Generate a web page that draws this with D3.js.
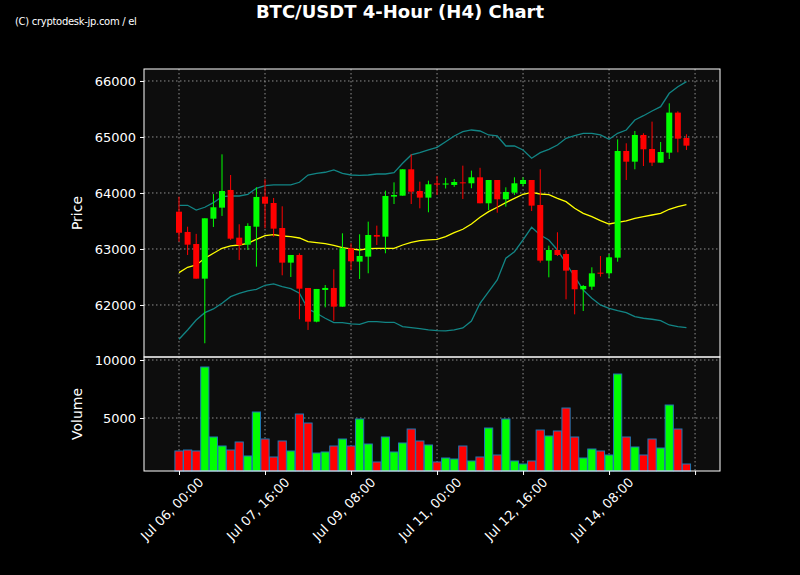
<!DOCTYPE html>
<html><head><meta charset="utf-8">
<script src="https://cdn.jsdelivr.net/npm/d3@7"></script>
<style>body{margin:0;background:#000;} text{font-family:"DejaVu Sans",sans-serif;}</style>
</head><body>
<script>
// 4h candles starting Jul 06 00:00
var opens  = [63666,63304,63089,62470,63541,63738,64054,63202,63077,63398,63934,63821,63375,62756,62893,62304,61702,62268,62304,61970,
              63012,62774,62863,63250,63220,63935,63952,64423,64036,63917,64170,64150,64143,64190,64173,64280,63816,64232,63887,64006,
              64161,64232,63786,62792,62982,62911,62625,62280,62327,62577,62566,62845,64750,64559,65036,64786,64542,64720,65435,64982];
var closes = [63290,63077,62470,63548,63745,64036,63184,63071,63411,63929,63809,63363,62756,62893,62291,61702,62286,62304,61970,63012,
              62780,62875,63250,63220,63946,63964,64423,64023,63917,64155,64150,64170,64196,64173,64280,63816,64232,63887,64018,64173,
              64232,63774,62792,62982,62893,62613,62280,62339,62565,62560,62851,64750,64559,65036,64780,64542,64732,65435,64970,64845];
var highs  = [63934,63398,63270,63548,63982,64690,64321,63441,63459,64102,64245,63911,63762,62893,62923,62304,62286,62357,62637,63280,
              63101,63262,63488,63417,64041,64190,64423,64690,64202,64220,64304,64270,64250,64488,64399,64450,64232,64232,64101,64280,
              64280,64232,64423,63060,63298,62982,62625,62357,62673,62875,62910,64958,64887,65107,65066,65274,64910,65601,65458,65048];
var lows   = [63130,62893,62470,61316,63393,63590,63161,62804,62982,62684,63370,63220,62530,62500,61745,61554,61690,61958,61720,61970,
              62625,62464,62566,63071,62923,63803,63952,63803,63726,63655,63964,64080,64110,63893,64084,63816,63696,63648,63756,63964,
              64120,63678,62756,62494,62875,62101,61833,61893,62268,62506,62480,62773,64232,64423,64482,64482,64542,64607,64726,64768];
var volumes = [2156,2242,2156,9397,3363,2587,2242,2932,1725,5518,3190,1639,3018,2156,5345,4569,1983,2070,2587,3190,
               2587,4914,2759,1208,3363,2070,2846,4052,3018,2673,1208,1552,1466,2587,1294,1639,4138,1811,4914,1294,
               1035,1294,3966,3449,3880,5862,3363,1552,2328,2156,1811,8793,3363,2500,1811,3190,2414,6121,4052,1035];
var bbMid = [62577,62673,62714,62834,62923,63012,63054,63071,63102,63173,63237,63255,63232,63220,63196,63130,63112,63095,63066,63023,
             63000,62982,63005,63012,63012,63012,63071,63120,63148,63161,63173,63220,63291,63352,63446,63566,63666,63745,63827,63905,
             63977,64012,63982,63970,63905,63845,63727,63637,63577,63505,63446,63477,63500,63548,63577,63607,63637,63709,63755,63791];
var bbUpper = [63780,63780,63696,63745,63827,63934,63946,63946,63977,64084,64130,64143,64143,64143,64191,64321,64352,64370,64411,64352,
               64321,64316,64321,64339,64339,64363,64530,64679,64720,64768,64816,64916,65018,65095,65125,65107,65036,65018,64839,64839,
               64768,64620,64720,64780,64857,64977,65023,65066,65066,65036,64959,65066,65125,65304,65380,65464,65541,65780,65898,65988];
var bbLower = [61388,61554,61732,61863,61929,62030,62148,62209,62250,62280,62352,62375,62327,62291,62209,61929,61852,61763,61684,61684,
               61661,61655,61702,61702,61691,61691,61613,61595,61577,61554,61541,61536,61554,61589,61714,62030,62238,62446,62834,62952,
               63161,63387,63250,63161,62982,62745,62505,62268,62120,62000,61941,61898,61863,61791,61763,61745,61720,61643,61613,61595];
var priceTicks = [62000,63000,64000,65000,66000];
var volumeTicks = [5000,10000];
var tickIdx = [0,10,20,30,40,50,60];
var tickLabels = ["Jul 06, 00:00","Jul 07, 16:00","Jul 09, 08:00","Jul 11, 00:00","Jul 12, 16:00","Jul 14, 08:00",""];

var W = 800, H = 575;
var L = 144, R = 720, pTop = 69, pBot = 357, vTop = 357, vBot = 471;

var svg = d3.select("body").append("svg").attr("width", W).attr("height", H)
    .style("background", "#000");

var x = d3.scaleLinear().domain([-4.07, 62.9]).range([L, R]);
var yP = d3.scaleLinear().domain([61071, 66214]).range([pBot, pTop]);
var yV = d3.scaleLinear().domain([430, 10260]).range([vBot, vTop]);

svg.append("rect").attr("x", L).attr("y", pTop).attr("width", R - L).attr("height", vBot - pTop).attr("fill", "#0d0d0d");

// grids
function grid(g, scale, vals, top, bot) {
  g.selectAll("line.h").data(vals).enter().append("line")
    .attr("x1", L).attr("x2", R).attr("y1", d => scale(d)).attr("y2", d => scale(d));
  g.selectAll("line.v").data(tickIdx).enter().append("line")
    .attr("x1", d => x(d)).attr("x2", d => x(d)).attr("y1", top).attr("y2", bot);
  g.selectAll("line").attr("stroke", "#b0b0b0").attr("stroke-width", 1).attr("stroke-dasharray", "1.5,2.5").attr("opacity", 0.8);
}
grid(svg.append("g"), yP, priceTicks, pTop, pBot);
grid(svg.append("g"), yV, volumeTicks, vTop, vBot);

var idx = d3.range(opens.length);
var up = i => closes[i] >= opens[i];

// bollinger
function band(arr, color, w) {
  svg.append("path").datum(idx)
    .attr("d", d3.line().x(i => x(i)).y(i => yP(arr[i])))
    .attr("fill", "none").attr("stroke", color).attr("stroke-width", w);
}
band(bbUpper, "#128585", 1.3);
band(bbLower, "#128585", 1.3);
band(bbMid, "#ffff00", 1.3);

// candles
var c = svg.append("g");
c.selectAll("line").data(idx).enter().append("line")
  .attr("x1", i => x(i)).attr("x2", i => x(i))
  .attr("y1", i => yP(highs[i])).attr("y2", i => yP(lows[i]))
  .attr("stroke", i => up(i) ? "#00ff00" : "#ff0000").attr("stroke-width", 1);
c.selectAll("rect").data(idx).enter().append("rect")
  .attr("x", i => x(i) - 3).attr("width", 6)
  .attr("y", i => yP(Math.max(opens[i], closes[i])))
  .attr("height", i => Math.max(1, Math.abs(yP(opens[i]) - yP(closes[i]))))
  .attr("fill", i => up(i) ? "#00ff00" : "#ff0000");

// volume
svg.append("g").selectAll("rect").data(idx).enter().append("rect")
  .attr("x", i => x(i) - 4.1).attr("width", 8.2)
  .attr("y", i => yV(volumes[i])).attr("height", i => vBot - yV(volumes[i]))
  .attr("fill", i => up(i) ? "#00ff00" : "#ff0000")
  .attr("stroke", "#1f77b4").attr("stroke-width", 1);

// frames
[[pTop, pBot], [vTop, vBot]].forEach(function (p) {
  svg.append("rect").attr("x", L).attr("y", p[0]).attr("width", R - L).attr("height", p[1] - p[0])
    .attr("fill", "none").attr("stroke", "#fff").attr("stroke-width", 1);
});

// axes
function styleAxis(g) {
  g.select(".domain").remove();
  g.selectAll("line").attr("stroke", "#fff");
  g.selectAll("text").attr("fill", "#fff").style("font-size", "13px");
}
svg.append("g").attr("transform", "translate(" + L + ",0)")
  .call(d3.axisLeft(yP).tickValues(priceTicks).tickFormat(d3.format("d")).tickSize(4).tickPadding(4)).call(styleAxis);
svg.append("g").attr("transform", "translate(" + L + ",0)")
  .call(d3.axisLeft(yV).tickValues(volumeTicks).tickFormat(d3.format("d")).tickSize(4).tickPadding(4)).call(styleAxis);
var xa = svg.append("g").attr("transform", "translate(0," + vBot + ")")
  .call(d3.axisBottom(x).tickValues(tickIdx).tickFormat((d, i) => tickLabels[i]).tickSize(4)).call(styleAxis);
xa.selectAll("text").attr("text-anchor", "end").attr("x", 9).attr("y", 17).attr("dy", "0.7em")
  .attr("transform", "rotate(-45)");

svg.append("text").attr("transform", "translate(82," + (pTop + pBot) / 2 + ") rotate(-90)")
  .attr("text-anchor", "middle").attr("fill", "#fff").style("font-size", "14px").text("Price");
svg.append("text").attr("transform", "translate(82," + (vTop + vBot) / 2 + ") rotate(-90)")
  .attr("text-anchor", "middle").attr("fill", "#fff").style("font-size", "14px").text("Volume");

svg.append("text").attr("x", 400).attr("y", 18).attr("text-anchor", "middle").attr("fill", "#fff")
  .style("font-size", "18px").style("font-weight", "bold").text("BTC/USDT 4-Hour (H4) Chart");
svg.append("text").attr("x", 15).attr("y", 25).attr("fill", "#fff")
  .style("font-size", "10px").style("letter-spacing", "-0.3px").text("(C) cryptodesk-jp.com / el");
</script>
</body></html>
